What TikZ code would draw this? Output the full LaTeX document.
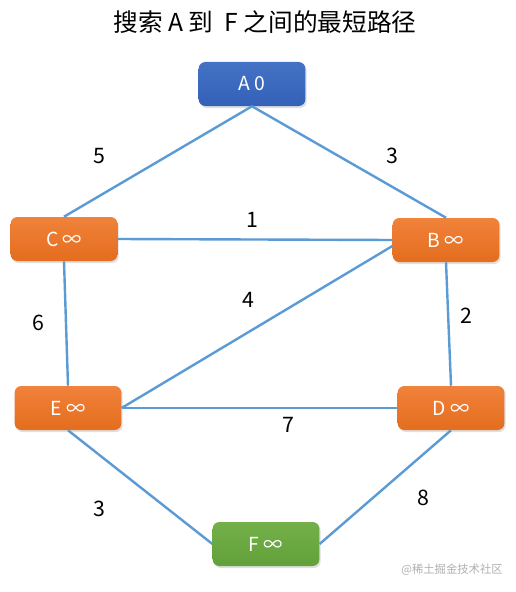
\documentclass[tikz,border=0pt]{standalone}
\usepackage{fontspec}
\setmainfont{Noto Sans CJK SC}
\usetikzlibrary{shadows}
\definecolor{GrBlue}{HTML}{4472C4}
\definecolor{GrBlueDark}{HTML}{3461B8}
\definecolor{GrOrange}{HTML}{F0823A}
\definecolor{GrOrangeDark}{HTML}{E46D1E}
\definecolor{GrGreen}{HTML}{74B04A}
\definecolor{GrGreenDark}{HTML}{62A03A}
\definecolor{GrEdge}{HTML}{5B9BD5}
\definecolor{GrMark}{HTML}{B0B0B0}

\tikzset{
  vert/.style={rounded corners=5,minimum width=80pt,minimum height=33pt,
    text=white,font=\fontsize{14.5}{16}\selectfont,
    drop shadow={shadow xshift=1pt,shadow yshift=-1.5pt,opacity=.25}},
  vstart/.style={vert,top color=GrBlue,bottom color=GrBlueDark},
  vmid/.style={vert,top color=GrOrange,bottom color=GrOrangeDark},
  vend/.style={vert,top color=GrGreen,bottom color=GrGreenDark},
  edge/.style={GrEdge,line width=1.8pt},
  weight/.style={font=\fontsize{16}{18}\selectfont}
}

\begin{document}
\begin{tikzpicture}[x=0.75pt,y=-0.75pt]
\path[use as bounding box] (0,0) rectangle (515,592);
\fill[white] (0,0) rectangle (515,592);
\node (title) at (265,22) {\fontsize{18.5}{21}\selectfont 搜索 A 到 \ F 之间的最短路径};
% vertices
\node[vstart] (A) at (252,84) {A 0};
\node[vmid] (C) at (64,239) {C ∞};
\node[vmid] (B) at (446,240) {B ∞};
\node[vmid] (E) at (68,408) {E ∞};
\node[vmid] (D) at (451,408) {D ∞};
\node[vend] (F) at (266,544) {F ∞};
% edges
\draw[edge] (A.south) -- (C.north);
\draw[edge] (A.south) -- (B.north);
\draw[edge] (C.east) -- (B.west);
\draw[edge] ([yshift=-4.5pt]B.west) -- (E.east);
\draw[edge] (C.south) -- (E.north);
\draw[edge] (B.south) -- (D.north);
\draw[edge] (E.east) -- (D.west);
\draw[edge] (E.south) -- (F.west);
\draw[edge] (D.south) -- (F.east);
% weights
\node[weight] (wAC) at (99,156) {5};
\node[weight] (wAB) at (392,156) {3};
\node[weight] (wCB) at (252,220) {1};
\node[weight] (wBE) at (248,300) {4};
\node[weight] (wCE) at (38,323) {6};
\node[weight] (wBD) at (466,316) {2};
\node[weight] (wED) at (288,425) {7};
\node[weight] (wEF) at (99,509) {3};
\node[weight] (wDF) at (423,498) {8};
\node[text=GrMark,font=\fontsize{8.5}{10}\selectfont] (mark) at (452,570) {@稀土掘金技术社区};
\end{tikzpicture}
\end{document}
